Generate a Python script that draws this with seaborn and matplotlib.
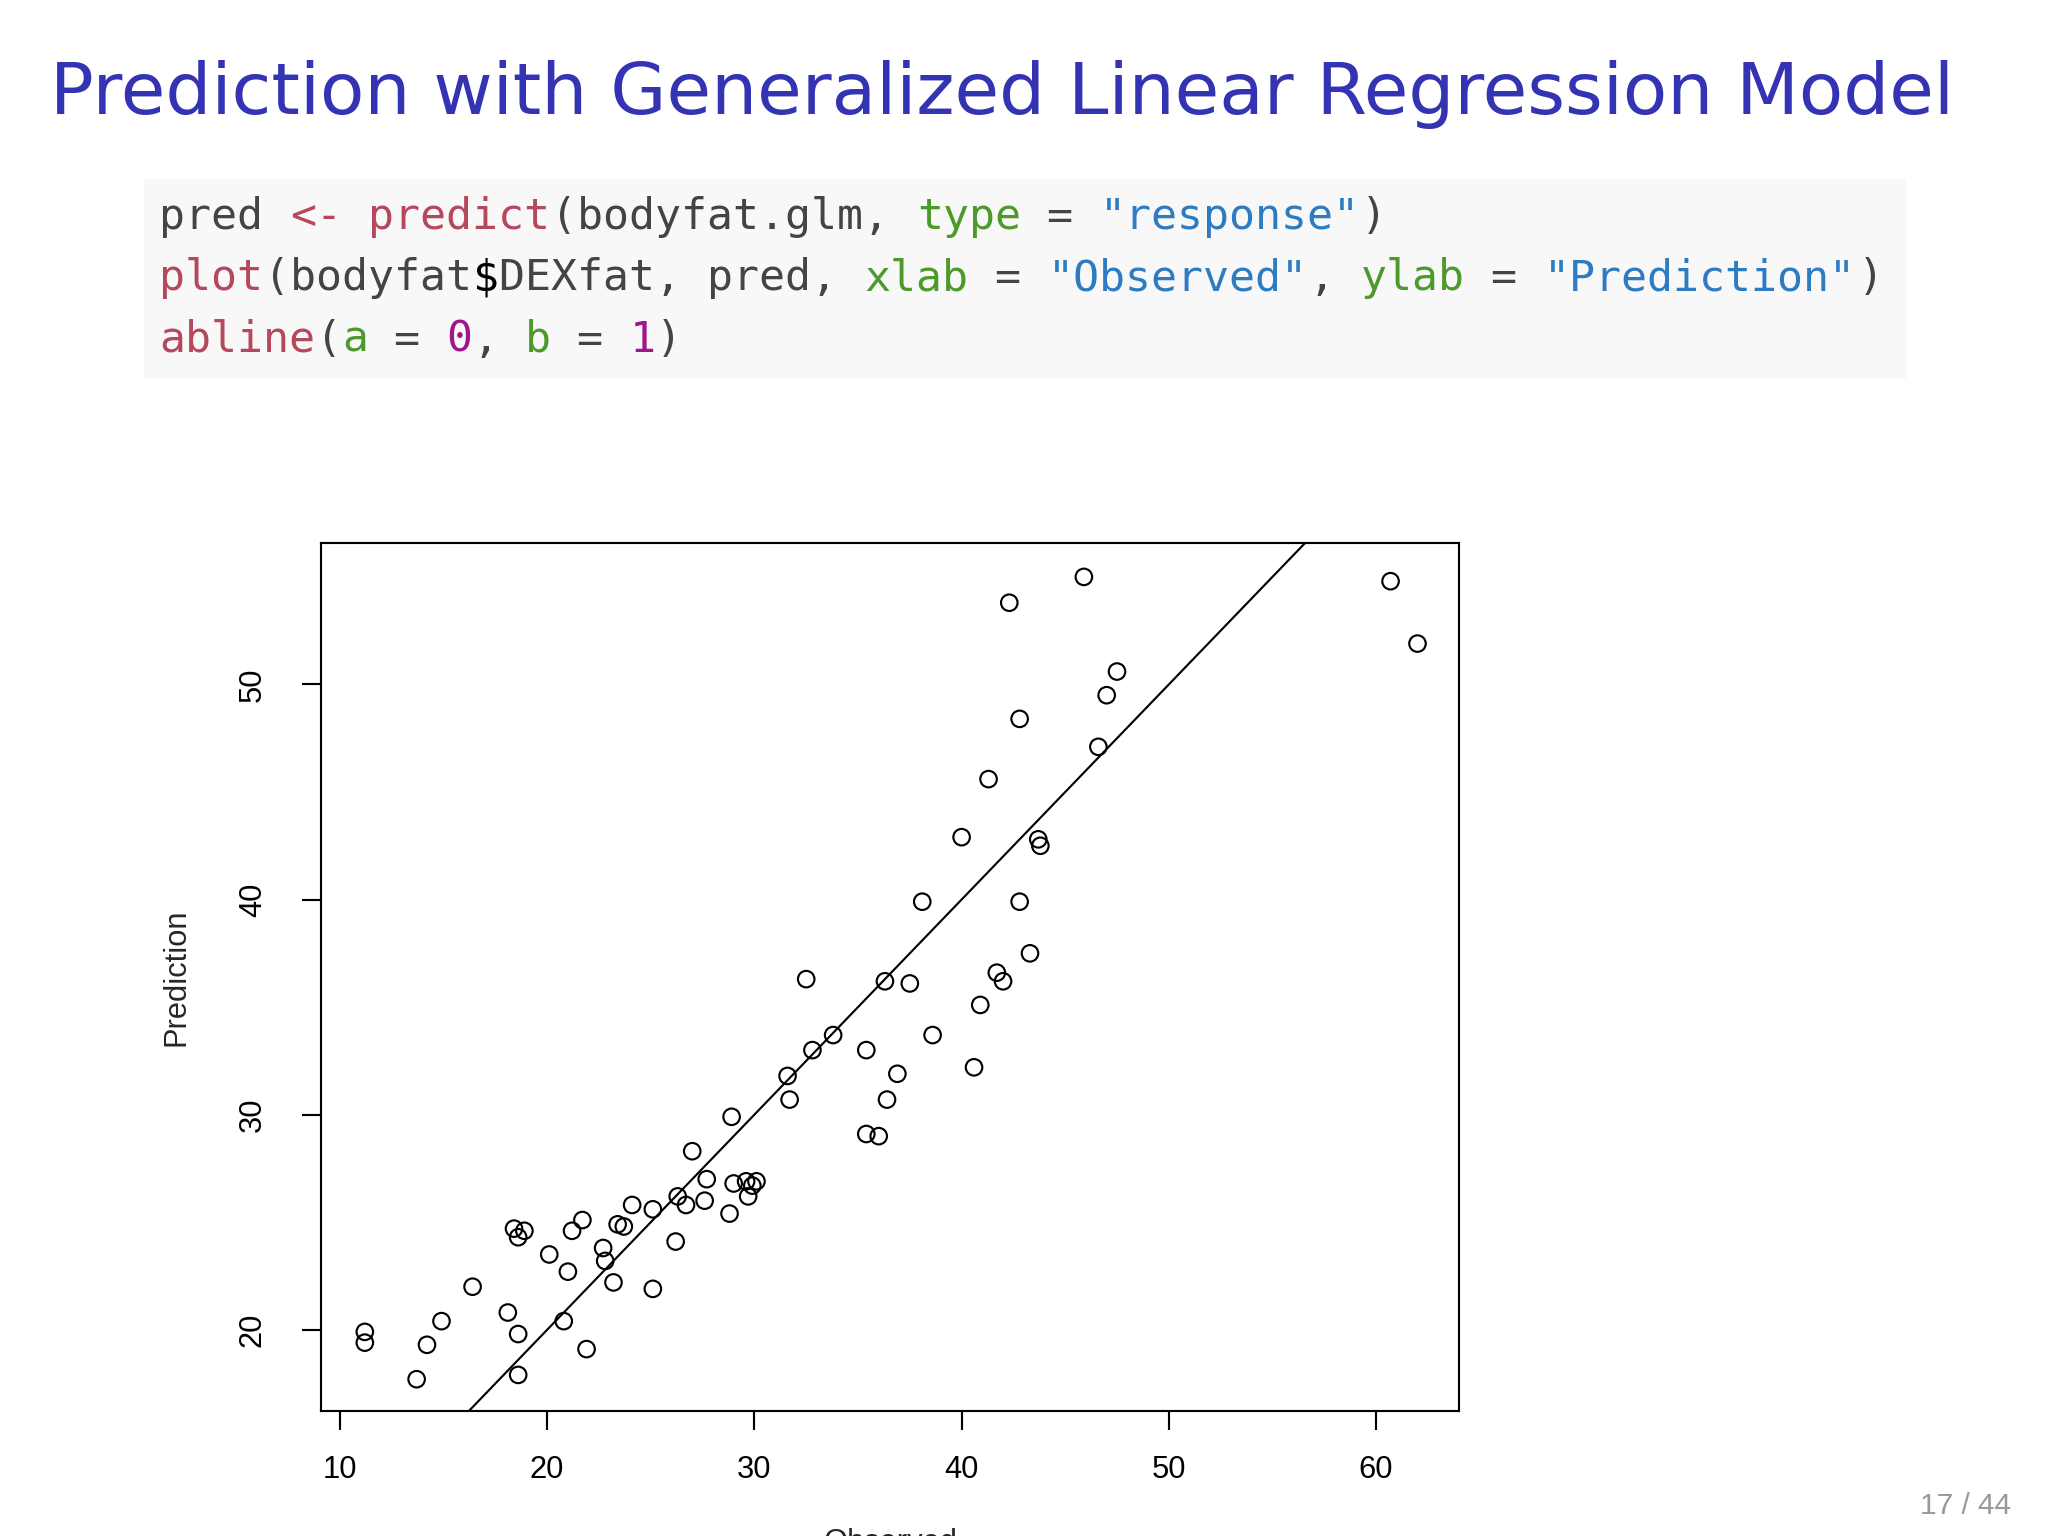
import matplotlib
matplotlib.use("Agg")
import matplotlib.pyplot as plt
import seaborn as sns
import pandas as pd

observed = [11.2, 11.2, 13.7, 14.2, 14.9, 16.4, 18.1, 18.4, 18.6, 18.9, 18.6, 18.6, 20.1, 20.8, 21.0,
            21.2, 21.7, 21.9, 22.7, 22.8, 23.2, 23.4, 23.7, 24.1, 25.1, 25.1, 26.2, 26.3, 26.7, 27.0,
            27.6, 27.7, 28.8, 28.9, 29.0, 29.6, 29.7, 29.9, 30.1, 31.6, 31.7, 32.5, 32.8, 33.8, 35.4,
            35.4, 36.0, 36.3, 36.4, 36.9, 37.5, 38.1, 38.6, 40.0, 40.6, 40.9, 41.3, 41.7, 42.0, 42.3,
            42.8, 42.8, 43.3, 43.7, 43.8, 45.9, 46.6, 47.0, 47.5, 60.7, 62.0]
prediction = [19.9, 19.4, 17.7, 19.3, 20.4, 22.0, 20.8, 24.7, 24.3, 24.6, 19.8, 17.9, 23.5, 20.4, 22.7,
              24.6, 25.1, 19.1, 23.8, 23.2, 22.2, 24.9, 24.8, 25.8, 25.6, 21.9, 24.1, 26.2, 25.8, 28.3,
              26.0, 27.0, 25.4, 29.9, 26.8, 26.9, 26.2, 26.7, 26.9, 31.8, 30.7, 36.3, 33.0, 33.7, 33.0,
              29.1, 29.0, 36.2, 30.7, 31.9, 36.1, 39.9, 33.7, 42.9, 32.2, 35.1, 45.6, 36.6, 36.2, 53.8,
              39.9, 48.4, 37.5, 42.8, 42.5, 55.0, 47.1, 49.5, 50.6, 54.8, 51.9]
xticks = [10, 20, 30, 40, 50, 60]
yticks = [20, 30, 40, 50]

sns.set_style("white")
plt.rcParams['font.family'] = ['Liberation Sans', 'DejaVu Sans']

W, H = 1568, 1176
fig = plt.figure(figsize=(2048/153.6, 1536/153.6), dpi=153.6)

def fx(px): return px / W
def fy(py): return 1 - py / H

# Title
fig.text(fx(38), fy(72), "Prediction with Generalized Linear Regression Model",
         fontsize=34, color="#3333b3", va="center", ha="left", family="DejaVu Sans")

# Code box
fig.patches.append(matplotlib.patches.Rectangle((fx(110), fy(290)), fx(1459)-fx(110), fy(137)-fy(290),
                   transform=fig.transFigure, facecolor="#f8f8f8", edgecolor="none"))
red, grn, blu, mag, txt = "#b5485d", "#4c9a2a", "#2d7bc0", "#a0168a", "#444444"
lines = [
    [("pred ", txt), ("<-", red), (" ", txt), ("predict", red), ("(bodyfat.glm, ", txt), ("type", grn),
     (" = ", txt), ('"response"', blu), (")", txt)],
    [("plot", red), ("(bodyfat", txt), ("$", "black"), ("DEXfat, pred, ", txt), ("xlab", grn), (" = ", txt),
     ('"Observed"', blu), (", ", txt), ("ylab", grn), (" = ", txt), ('"Prediction"', blu), (")", txt)],
    [("abline", red), ("(", txt), ("a", grn), (" = ", txt), ("0", mag), (", ", txt), ("b", grn),
     (" = ", txt), ("1", mag), (")", txt)],
]
ys = [166, 213, 260]
for ln, yy in zip(lines, ys):
    i = 0
    for tok, col in ln:
        fig.text(fx(122 + i * 20.0), fy(yy), tok, family="DejaVu Sans Mono", fontsize=20.3,
                 color=col, va="center", ha="left")
        i += len(tok)

# Plot
ax = fig.add_axes([fx(246), fy(1080), fx(1117) - fx(246), fy(416) - fy(1080)])
df = pd.DataFrame({"Observed": observed, "Prediction": prediction})
sns.scatterplot(data=df, x="Observed", y="Prediction", ax=ax, s=60, facecolor="none",
                edgecolor="black", linewidth=1.0, marker="o")
ax.set_xlim(9.1, 64.0)
ax.set_ylim(16.24, 56.56)
ax.axline((0, 0), slope=1, color="black", linewidth=1.0)
ax.set_xticks(xticks)
ax.set_yticks(yticks)
ax.set_yticklabels([str(v) for v in yticks], rotation=90, va="center")
for s in ax.spines.values():
    s.set_color("black"); s.set_linewidth(1.0)
ax.tick_params(axis="both", direction="out", length=9, width=1, labelsize=14.5, color="black",
               labelcolor="black", bottom=True, left=True)
ax.tick_params(axis="x", pad=12)
ax.tick_params(axis="y", pad=16)
ax.set_xlabel("Observed", fontsize=14.5, labelpad=20)
ax.set_ylabel("Prediction", fontsize=14.5, labelpad=22)

fig.text(fx(1540), fy(1153), "17 / 44", fontsize=14, color="#999999", ha="right", va="center")

fig.savefig("out.png", dpi=153.6, facecolor="white")
